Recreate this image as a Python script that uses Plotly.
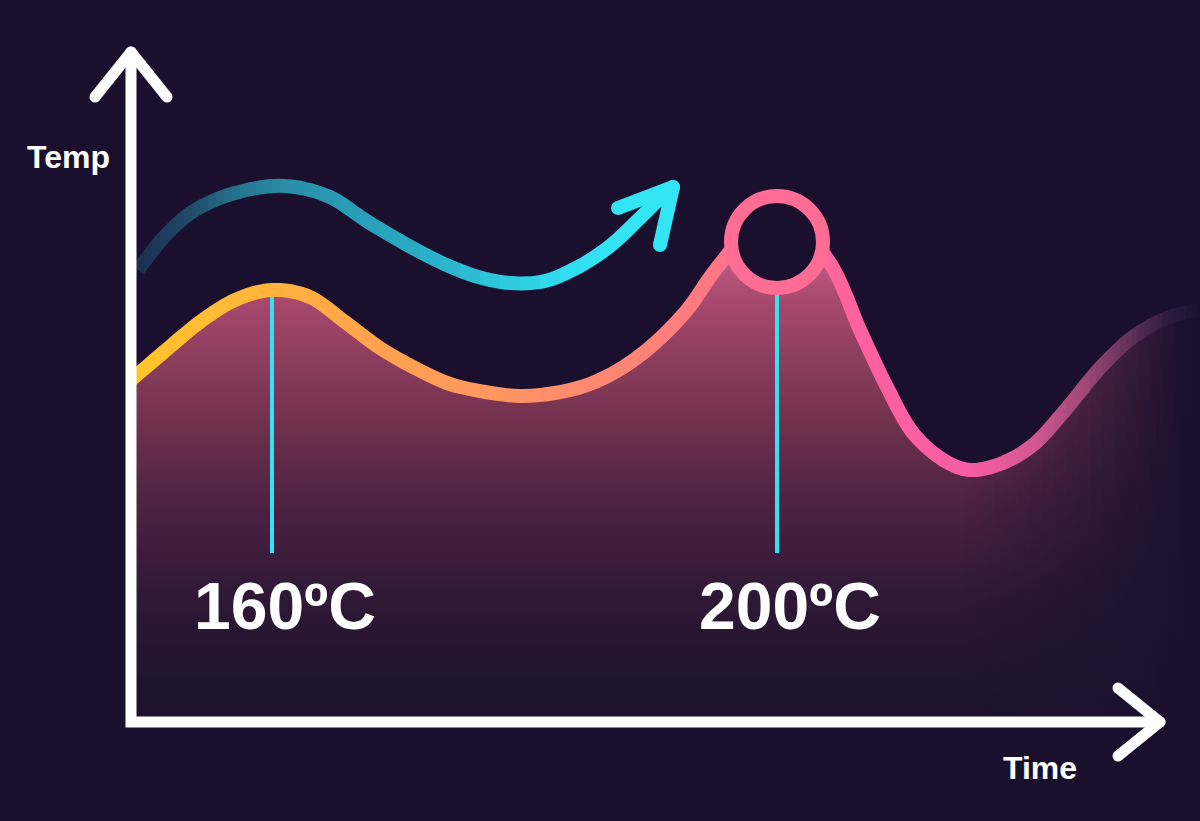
import plotly.graph_objects as go

BG = "#1a102e"
WIDTH, HEIGHT = 1200, 821
ORIGIN_X, ORIGIN_Y = 131, 722   # page pixel where the two arrows meet

# main temperature curve (time from the temp axis, temp above the time axis)
time_main = [0, 34, 69, 104, 141, 179, 214, 249, 284, 319, 354, 389, 424, 459, 494, 524,
             556, 589, 646, 699, 729, 756, 782, 814, 839, 869, 902, 936, 969, 1002, 1036, 1074]
temp_main = [342, 371, 400, 422, 432, 425, 400, 374, 354, 338, 330, 326, 329, 338, 356, 379,
             412, 458, 515, 459, 392, 335, 289, 261, 252, 258, 277, 314, 354, 385, 404, 413]

# rising trend arrow
time_trend = [7, 34, 61, 104, 154, 199, 234, 271, 309, 344, 379, 414, 449, 479, 509, 539]
temp_trend = [452, 486, 510, 529, 536, 525, 502, 480, 460, 446, 439, 441, 456, 476, 504, 534]

# marked peaks
peak_time = [141, 646]
peak_temp = [432, 480]
peak_label = ["160ºC", "200ºC"]

FONT = "Liberation Sans Narrow, Arial Narrow, Liberation Sans, Arial, sans-serif"

LINE_STOPS = [(131, "#ffc62a"), (277, "#ffb23e"), (400, "#ffa052"), (510, "#ff9463"),
              (650, "#ff8279"), (720, "#ff7686"), (777, "#ff6d92"), (860, "#ff62a0"),
              (970, "#f85ca4"), (1030, "#d65892"), (1083, "#a04878"), (1133, "#5c2e58"),
              (1170, "#2a1a3c"), (1200, BG)]
TREND_STOPS = [(135, "#1c2c4c"), (190, "#1f4a68"), (240, "#257590"), (285, "#2a8da7"),
               (400, "#29a6bf"), (500, "#2dc6dc"), (560, "#31dcef"), (620, "#33e4f5")]
FILL_STOPS = [(0, "#1c112d"), (0.05, "#1e122e"), (0.27, "#2e1836"), (0.48, "#4e2242"),
              (0.70, "#7a3552"), (0.92, "#a8496e"), (1.0, "#bc5a82")]
CYAN = "#31e3f4"
PINK = "#ff6c94"


def hex_rgb(h):
    h = h.lstrip("#")
    return [int(h[i:i + 2], 16) for i in (0, 2, 4)]


def mix(c1, c2, t):
    a, b = hex_rgb(c1), hex_rgb(c2)
    return "rgb({},{},{})".format(*[round(a[i] + (b[i] - a[i]) * t) for i in range(3)])


def color_at(stops, px):
    if px <= stops[0][0]:
        return mix(stops[0][1], stops[0][1], 0)
    for (x1, c1), (x2, c2) in zip(stops, stops[1:]):
        if px <= x2:
            return mix(c1, c2, (px - x1) / (x2 - x1))
    return mix(stops[-1][1], stops[-1][1], 0)


def fill_fade(px):
    return max(0.0, min(1.0, (1185 - px) / (1185 - 960)))


fig = go.Figure()
fig.add_trace(go.Scatter(x=[], y=[], showlegend=False))

# the picture is cut into narrow vertical windows so the strokes can change colour along x
axes = {}
edges = list(range(120, 320, 8)) + list(range(320, 940, 20)) + list(range(940, WIDTH + 1, 6))
for i, (a, b) in enumerate(zip(edges, edges[1:])):
    n = i + 2
    mid = (a + b) / 2
    axes[f"xaxis{n}"] = dict(domain=[a / WIDTH, b / WIDTH], range=[a - ORIGIN_X, b - ORIGIN_X],
                             anchor="y", visible=False, fixedrange=True)
    f = fill_fade(mid)
    fig.add_trace(go.Scatter(
        x=time_main, y=temp_main, xaxis=f"x{n}", yaxis="y", mode="lines",
        line=dict(width=0, shape="spline", smoothing=1, simplify=False), fill="tozeroy",
        fillgradient=dict(type="vertical", start=0, stop=460,
                          colorscale=[[p, mix(BG, c, f)] for p, c in FILL_STOPS]),
        hoverinfo="skip", showlegend=False
    ))
    fig.add_trace(go.Scatter(
        x=time_main, y=temp_main, xaxis=f"x{n}", yaxis="y", mode="lines",
        line=dict(width=14, shape="spline", smoothing=1, simplify=False,
                  color=color_at(LINE_STOPS, mid)),
        hoverinfo="skip", showlegend=False
    ))
    if a < 680:
        fig.add_trace(go.Scatter(
            x=time_trend, y=temp_trend, xaxis=f"x{n}", yaxis="y", mode="lines",
            line=dict(width=14, shape="spline", smoothing=1, simplify=False,
                      color=color_at(TREND_STOPS, mid)),
            hoverinfo="skip", showlegend=False
        ))

shapes = []


def dot(x, y, d, color):
    shapes.append(dict(type="circle", xref="x", yref="y", x0=x - d / 2, x1=x + d / 2,
                       y0=y - d / 2, y1=y + d / 2, fillcolor=color, line_width=0, layer="above"))


def stroke(p1, p2, width, color, caps=True):
    shapes.append(dict(type="line", xref="x", yref="y", x0=p1[0], y0=p1[1], x1=p2[0], y1=p2[1],
                       line=dict(color=color, width=width), layer="above"))
    if caps:
        dot(*p1, width, color)
        dot(*p2, width, color)


# peak drop lines
for t, v in zip(peak_time, peak_temp):
    stroke((t, v - 7), (t, 169), 4, CYAN, caps=False)

# ring on the second peak
r = 46
shapes.append(dict(type="circle", xref="x", yref="y",
                   x0=peak_time[1] - r, x1=peak_time[1] + r,
                   y0=peak_temp[1] - r, y1=peak_temp[1] + r,
                   fillcolor=BG, line=dict(color=PINK, width=14), layer="above"))

# trend arrow head
tip = (time_trend[-1] + 3, temp_trend[-1] + 1)
stroke((tip[0] - 55, tip[1] - 21), tip, 14, "#33e4f5")
stroke((tip[0] - 13, tip[1] - 58), tip, 14, "#33e4f5")

# axes with open arrow heads
shapes.append(dict(type="path", xref="x", yref="y", path="M 0,670 L 0,0 L 1029,0",
                   line=dict(color="white", width=11), layer="above"))
stroke((-36, 625), (0, 670), 11, "white")
stroke((36, 625), (0, 670), 11, "white")
stroke((987, 34), (1029, 0), 11, "white")
stroke((987, -34), (1029, 0), 11, "white")

annotations = [
    dict(x=-63, y=565, text="Temp", font=dict(size=32, weight="bold")),
    dict(x=909, y=-46, text="Time", font=dict(size=32, weight="bold")),
]
for t, lab in zip(peak_time, peak_label):
    annotations.append(dict(x=t + 13, y=116, text=lab, font=dict(size=66, weight="bold")))
for ann in annotations:
    ann.update(xref="x", yref="y", showarrow=False, xanchor="center", yanchor="middle")
    ann["font"].update(family=FONT, color="white")

fig.update_layout(
    width=WIDTH,
    height=HEIGHT,
    margin=dict(l=0, r=0, t=0, b=0),
    paper_bgcolor=BG,
    plot_bgcolor=BG,
    showlegend=False,
    xaxis=dict(domain=[0, 1], range=[-ORIGIN_X, WIDTH - ORIGIN_X], visible=False, fixedrange=True),
    yaxis=dict(domain=[0, 1], range=[ORIGIN_Y - HEIGHT, ORIGIN_Y], visible=False, fixedrange=True),
    shapes=shapes,
    annotations=annotations,
    **axes
)

fig.write_html(
    "out.html",
    config=dict(displayModeBar=False),
    post_script="document.body.style.margin='0';document.body.style.background='%s';" % BG
)
